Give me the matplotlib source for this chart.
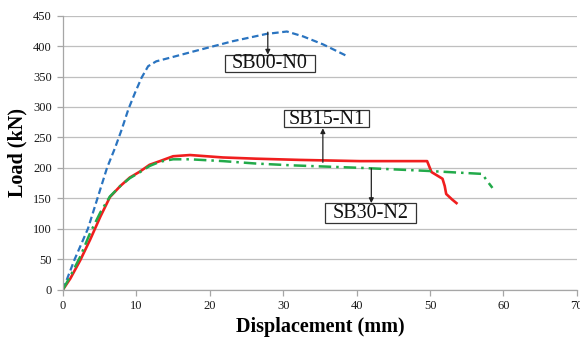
import numpy as np
import matplotlib
matplotlib.use('Agg')
import matplotlib.pyplot as plt
from matplotlib.patches import Rectangle

# SB00-N0 (blue dashed)
disp_n0 = [0, 1.6, 3.4, 4.7, 6.0, 7.1, 8.0, 8.9, 9.8, 10.7, 11.6, 12.7, 14.6, 17.7, 23.1, 27.7, 30.5, 32.7, 35.4, 38.8]
load_n0 = [0, 50, 100, 150, 200, 233, 263, 296, 323, 348, 367, 375, 381, 391, 408, 420, 424, 416, 403, 383]

# SB15-N1 (red solid)
disp_n1 = [0, 1.0, 2.35, 3.7, 5.1, 6.4, 7.8, 9.1, 10.5, 11.8, 13.2, 15.0, 17.3, 21.8, 26.3, 32.2, 40.4, 49.6, 50.2, 51.7, 52.0, 52.2, 53.0, 53.6]
load_n1 = [0, 18, 48, 82, 120, 152, 170, 184, 194, 205, 211, 219, 221, 217, 215, 213, 211, 211, 193, 182, 170, 157, 148, 142]

# SB30-N2 (green dash-dot)
disp_n2 = [0, 1.0, 2.35, 3.7, 5.1, 6.4, 7.8, 9.1, 10.5, 11.8, 13.2, 15.0, 17.3, 21.8, 26.3, 31.3, 40.4, 49.5, 57.1, 57.8, 58.5]
load_n2 = [0, 22, 54, 93, 127, 153, 170, 183, 193, 203, 210, 214, 214, 211, 207, 204, 200, 195, 190, 178, 167]

serif = ['Liberation Serif', 'DejaVu Serif']

fig = plt.figure(figsize=(5.8, 3.39), dpi=100)
ax = fig.add_axes([0.1086, 0.146, 0.886, 0.8077])

ax.plot(disp_n0, load_n0, color='#2A74C0', lw=1.6, linestyle=(0, (3, 1.6)))
ax.plot(disp_n1, load_n1, color='#F01E1E', lw=1.9, solid_joinstyle='round')
ax.plot(disp_n2, load_n2, color='#22AA4A', lw=1.8, linestyle=(0, (5, 2, 1, 2)))

ax.set_xlim(0, 70)
ax.set_ylim(0, 450)
ax.set_xticks(np.arange(0, 71, 10))
ax.set_yticks(np.arange(0, 451, 50))
ax.yaxis.grid(True, color='#BFBFBF', lw=0.9)
ax.set_axisbelow(True)
for s in ['top', 'right']:
    ax.spines[s].set_visible(False)
for s in ['left', 'bottom']:
    ax.spines[s].set_color('#A6A6A6')
    ax.spines[s].set_linewidth(0.9)
ax.tick_params(axis='both', colors='#A6A6A6', labelcolor='#1A1A1A', labelsize=9, length=4, width=0.9)
ax.tick_params(axis='y', pad=4)
for lab in ax.get_xticklabels() + ax.get_yticklabels():
    lab.set_family(serif)

ax.set_xlabel('Displacement (mm)', fontsize=14.5, fontweight='bold', family=serif, labelpad=4)
ax.set_ylabel('Load (kN)', fontsize=14.5, fontweight='bold', family=serif, labelpad=4)

# label boxes: (text, center x, center y, box width, box height) in data units
boxes = [('SB00-N0', 28.2, 372, 12.3, 28),
         ('SB15-N1', 35.9, 281, 11.5, 28),
         ('SB30-N2', 41.9, 126, 12.4, 32)]
for txt, cx, cy, w, h in boxes:
    ax.add_patch(Rectangle((cx - w / 2, cy - h / 2), w, h, facecolor='white',
                           edgecolor='#333333', lw=0.9, zorder=4))
    ax.text(cx, cy - 1, txt, ha='center', va='center', fontsize=14.5,
            family=serif, zorder=5, color='#111111')

arrow = dict(arrowstyle='-|>', color='#222222', lw=0.9, mutation_scale=7, shrinkA=0, shrinkB=0)
ax.annotate('', xy=(27.9, 386), xytext=(27.9, 423), arrowprops=arrow, zorder=5)
ax.annotate('', xy=(35.4, 265), xytext=(35.4, 209), arrowprops=arrow, zorder=5)
ax.annotate('', xy=(42.0, 142), xytext=(42.0, 199), arrowprops=arrow, zorder=5)

fig.savefig('out.png', dpi=100)
